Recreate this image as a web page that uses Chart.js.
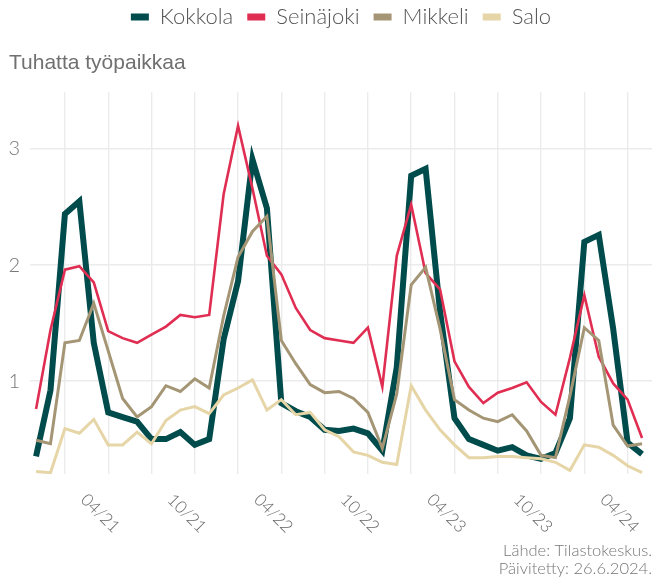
<!DOCTYPE html>
<html>
<head>
<meta charset="utf-8">
<script src="https://cdn.jsdelivr.net/npm/chart.js@4.4.1/dist/chart.umd.min.js"></script>
<style>
  html, body { margin: 0; padding: 0; background: #fff; }
  canvas { display: block; }
</style>
</head>
<body>
<canvas id="chart" width="652" height="579"></canvas>
<script>
// avoimet työpaikat, tuhatta — kuukaudet 11/2020–05/2024
const months = [
  '11/20', '12/20',
  '01/21', '02/21', '03/21', '04/21', '05/21', '06/21', '07/21', '08/21', '09/21', '10/21', '11/21', '12/21',
  '01/22', '02/22', '03/22', '04/22', '05/22', '06/22', '07/22', '08/22', '09/22', '10/22', '11/22', '12/22',
  '01/23', '02/23', '03/23', '04/23', '05/23', '06/23', '07/23', '08/23', '09/23', '10/23', '11/23', '12/23',
  '01/24', '02/24', '03/24', '04/24', '05/24'
];

const kokkola = [0.35, 0.92, 2.44, 2.55, 1.33, 0.73, 0.69, 0.65, 0.50, 0.50, 0.56, 0.45, 0.50, 1.36, 1.86, 2.91, 2.49, 0.81, 0.74, 0.69, 0.58, 0.57, 0.59, 0.55, 0.40, 1.12, 2.77, 2.83, 1.60, 0.68, 0.50, 0.45, 0.40, 0.43, 0.36, 0.33, 0.38, 0.68, 2.20, 2.26, 1.45, 0.47, 0.37];
const seinajoki = [0.76, 1.44, 1.96, 1.99, 1.85, 1.43, 1.37, 1.33, 1.40, 1.47, 1.57, 1.55, 1.57, 2.61, 3.20, 2.66, 2.08, 1.92, 1.63, 1.44, 1.37, 1.35, 1.33, 1.46, 0.95, 2.08, 2.52, 1.93, 1.79, 1.17, 0.95, 0.81, 0.90, 0.94, 0.99, 0.82, 0.71, 1.20, 1.74, 1.21, 0.98, 0.84, 0.51];
const mikkeli = [0.49, 0.46, 1.33, 1.35, 1.67, 1.26, 0.85, 0.69, 0.78, 0.96, 0.91, 1.02, 0.94, 1.56, 2.07, 2.29, 2.42, 1.35, 1.15, 0.97, 0.90, 0.91, 0.85, 0.73, 0.42, 0.89, 1.83, 1.98, 1.45, 0.84, 0.75, 0.68, 0.65, 0.71, 0.57, 0.36, 0.34, 0.87, 1.46, 1.35, 0.62, 0.44, 0.46];
const salo = [0.22, 0.21, 0.59, 0.55, 0.67, 0.45, 0.45, 0.56, 0.46, 0.66, 0.75, 0.78, 0.72, 0.88, 0.94, 1.01, 0.75, 0.84, 0.71, 0.73, 0.58, 0.52, 0.39, 0.36, 0.30, 0.28, 0.96, 0.75, 0.58, 0.45, 0.34, 0.34, 0.35, 0.35, 0.34, 0.33, 0.30, 0.23, 0.45, 0.43, 0.36, 0.27, 0.21];

const xTickLabels = ['04/21', '10/21', '04/22', '10/22', '04/23', '10/23', '04/24'];
const yTicks = [1, 2, 3];

const toPoints = arr => arr.map((v, i) => ({ x: i, y: v }));
// pystyviivat tammi/huhti/heinä/loka
const gridIdx = months.map((m, i) => i).filter(i => ['01', '04', '07', '10'].includes(months[i].slice(0, 2)));

const xLabels = {
  id: 'xLabels',
  afterDraw(chart) {
    const { ctx, scales: { x }, chartArea } = chart;
    ctx.save();
    ctx.font = '300 17px Lato';
    ctx.fillStyle = '#666';
    ctx.textAlign = 'center';
    ctx.textBaseline = 'middle';
    xTickLabels.forEach(lbl => {
      const px = x.getPixelForValue(months.indexOf(lbl));
      ctx.save();
      ctx.translate(px - 8, chartArea.bottom + 39);
      ctx.rotate(Math.PI / 4);
      ctx.fillText(lbl, 0, 0);
      ctx.restore();
    });
    ctx.restore();
  }
};

// legenda keskitetään piirtoalueen mukaan (kuten ggplotissa)
const legendShift = {
  id: 'legendShift',
  beforeDraw(chart) {
    const lg = chart.legend;
    const off = (chart.chartArea.left + chart.chartArea.right) / 2 - chart.width / 2;
    lg.left = off;
    lg.right = chart.width + off;
    lg.top = -8;
  }
};

const gridOpts = { color: '#ebebeb', lineWidth: 1.4, drawTicks: false };

new Chart(document.getElementById('chart'), {
  type: 'line',
  data: {
    datasets: [
      { label: 'Kokkola', data: toPoints(kokkola), borderColor: '#004b4b', backgroundColor: '#004b4b', borderWidth: 6, order: 4 },
      { label: 'Seinäjoki', data: toPoints(seinajoki), borderColor: '#e02d52', backgroundColor: '#e02d52', borderWidth: 2.6, order: 3 },
      { label: 'Mikkeli', data: toPoints(mikkeli), borderColor: '#a49675', backgroundColor: '#a49675', borderWidth: 3, order: 2 },
      { label: 'Salo', data: toPoints(salo), borderColor: '#e6d5a6', backgroundColor: '#e6d5a6', borderWidth: 3, order: 1 }
    ]
  },
  options: {
    responsive: false,
    animation: false,
    layout: { padding: { left: 9, right: 0, top: 0, bottom: 2 } },
    elements: { point: { radius: 0 }, line: { tension: 0 } },
    plugins: {
      tooltip: { enabled: false },
      legend: {
        position: 'top',
        labels: {
          font: { family: 'Lato', size: 22, weight: '300' },
          color: '#555',
          boxWidth: 18,
          boxHeight: 7,
          padding: 14,
          sort: (a, b) => a.datasetIndex - b.datasetIndex,
          generateLabels: chart => Chart.defaults.plugins.legend.labels.generateLabels(chart).map(l => {
            const ds = chart.data.datasets[l.datasetIndex];
            return { ...l, fillStyle: ds.borderColor, strokeStyle: ds.borderColor, lineWidth: 0 };
          })
        }
      },
      title: {
        display: true,
        text: 'Tuhatta työpaikkaa',
        align: 'start',
        weight: 500,
        color: '#707070',
        font: { family: 'Liberation Sans', size: 21, weight: 'normal' },
        padding: { top: 5, bottom: 16 }
      },
      subtitle: {
        display: true,
        position: 'bottom',
        align: 'end',
        text: ['Lähde: Tilastokeskus.', 'Päivitetty: 26.6.2024.'],
        color: '#777',
        font: { family: 'Lato', size: 16.5, weight: '300', lineHeight: 1.05 },
        padding: { top: 0, bottom: 0 }
      }
    },
    scales: {
      x: {
        type: 'linear',
        min: -0.42,
        max: 42.69,
        grid: gridOpts,
        border: { display: false },
        ticks: { display: false },
        afterBuildTicks: s => { s.ticks = gridIdx.map(v => ({ value: v })); },
        afterFit: s => { s.height = 68; }
      },
      y: {
        min: 0.196,
        max: 3.49,
        grid: gridOpts,
        border: { display: false },
        ticks: {
          color: '#777',
          padding: 10,
          font: { family: 'Lato', size: 20, weight: '300' }
        },
        afterBuildTicks: s => { s.ticks = yTicks.map(v => ({ value: v })); },
        afterFit: s => { s.width = 21; }
      }
    }
  },
  plugins: [xLabels, legendShift]
});
</script>
</body>
</html>
